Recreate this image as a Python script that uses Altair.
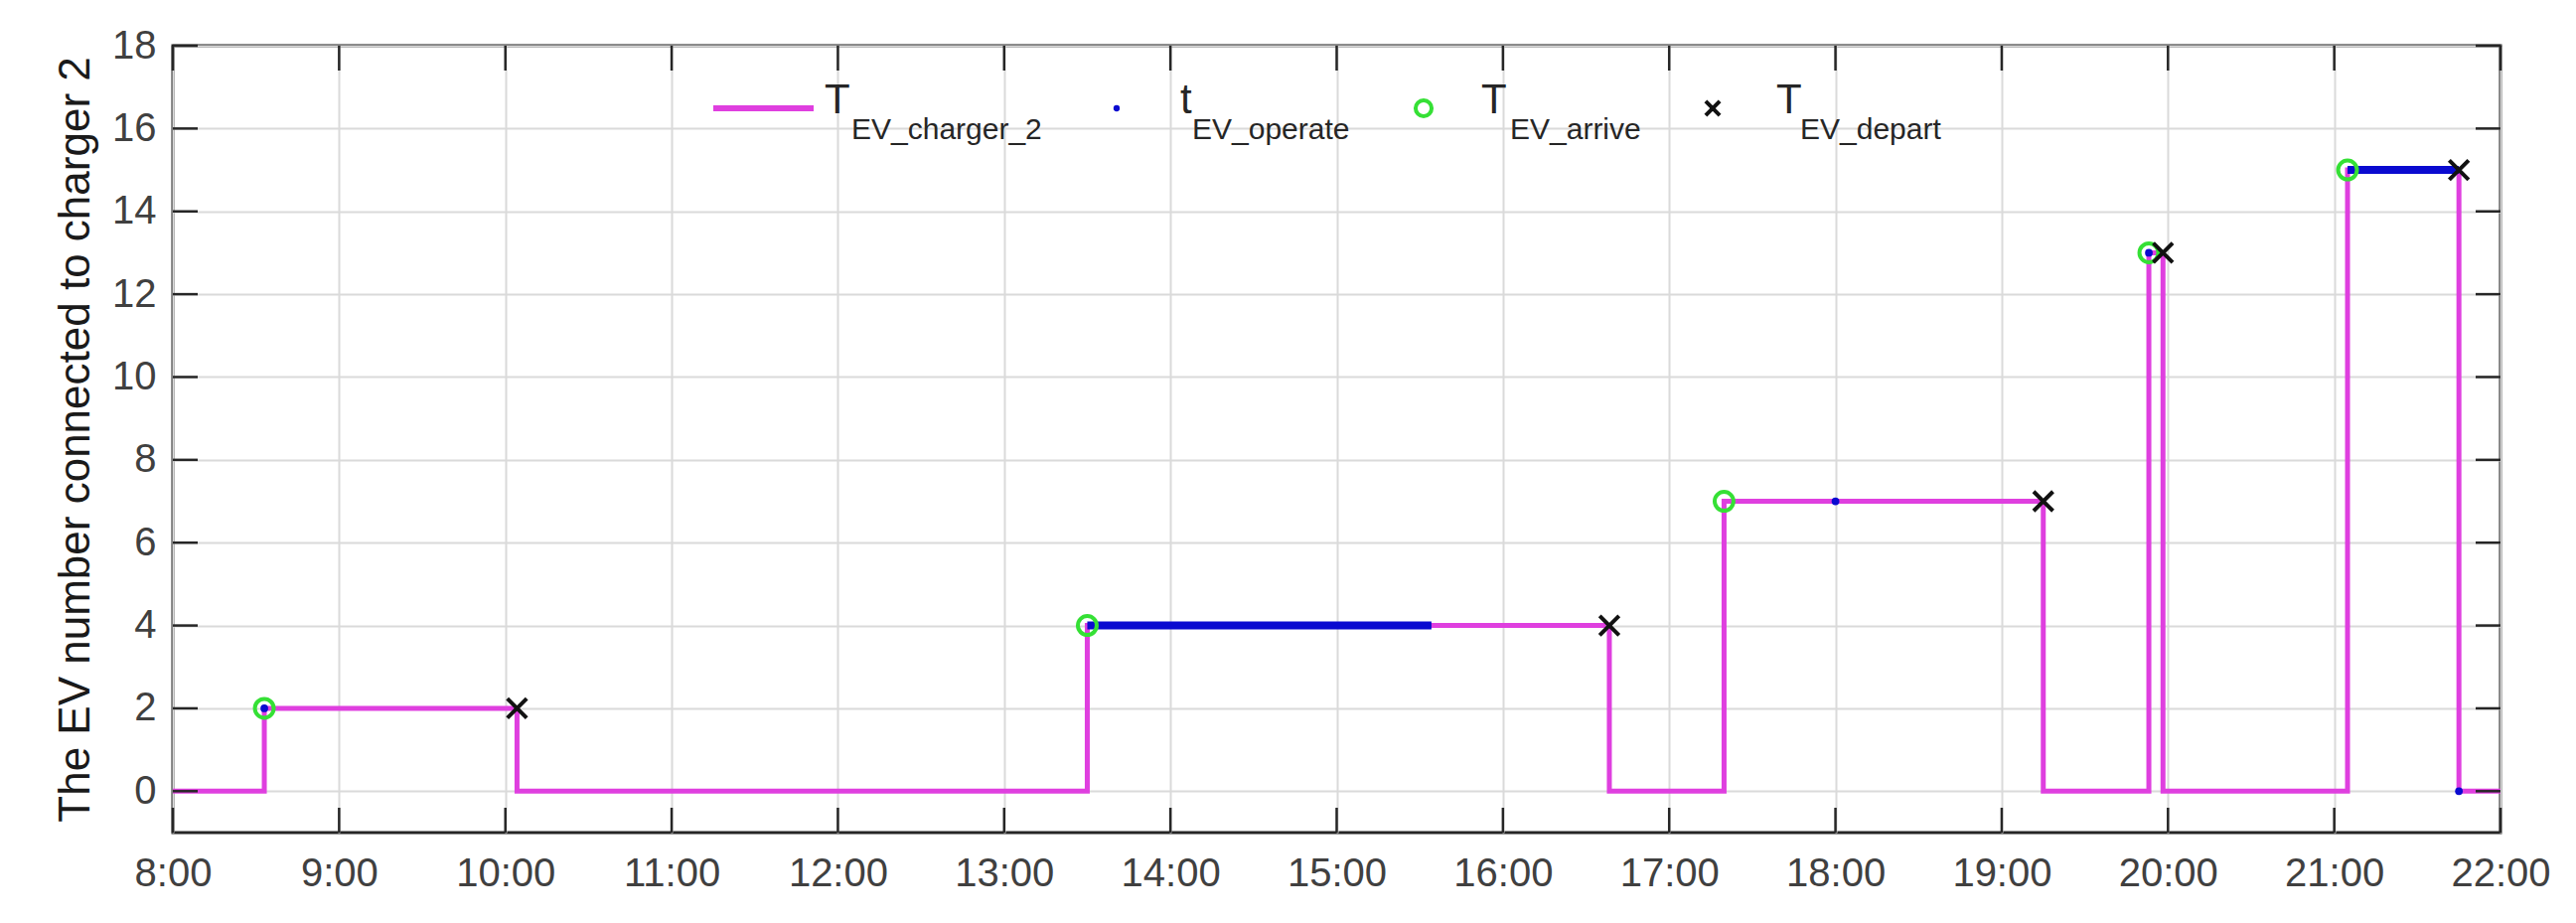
import altair as alt
import pandas as pd

# ---------------- data (hours of day, EV number) ----------------
arrive_t = [8.55, 13.50, 17.33, 19.885, 21.08]
depart_t = [10.07, 16.64, 19.25, 19.97, 21.75]
ev_level = [2, 4, 7, 13, 15]

operate_start = [13.50, 21.08]
operate_end = [15.57, 21.75]
operate_level = [4, 15]
operate_dot_t = [8.55, 18.00, 19.885, 21.75]
operate_dot_v = [2, 7, 13, 0]

day_start, day_end = 8, 22
x_ticks = list(range(8, 23))
y_ticks = list(range(0, 19, 2))

legend_main = ["T", "t", "T", "T"]
legend_sub = ["EV_charger_2", "EV_operate", "EV_arrive", "EV_depart"]

# ---------------- styling ----------------
FONT = "Liberation Sans"
W, H = 2343, 792
PINK = "#DF3FDF"
BLUE = "#0A0AD0"
GREEN = "#35E035"
BLACK = "#111111"
AX = "#262626"

# step line table built from arrivals / departures
step_t, step_v = [day_start], [0]
for a, d, l in zip(arrive_t, depart_t, ev_level):
    step_t += [a, a, d, d]
    step_v += [0, l, l, 0]
step_t.append(day_end)
step_v.append(0)
step_df = pd.DataFrame({"t": step_t, "v": step_v, "o": list(range(len(step_t)))})

arr_df = pd.DataFrame({"t": arrive_t, "v": ev_level})
dep_df = pd.DataFrame({"t": depart_t, "v": ev_level})
op_df = pd.DataFrame({"t": operate_start, "t2": operate_end, "v": operate_level})
opdot_df = pd.DataFrame({"t": operate_dot_t, "v": operate_dot_v})
xt_df = pd.DataFrame({"t": x_ticks})
yt_df = pd.DataFrame({"v": y_ticks})
dummy = pd.DataFrame({"k": [0]})

xscale = alt.Scale(domain=[day_start, day_end], nice=False, zero=False)
yscale = alt.Scale(domain=[-1, 18], nice=False, zero=False)

xaxis = alt.Axis(values=x_ticks, labelExpr="datum.value + ':00'", title=None,
                 tickSize=0, domain=False, grid=True, gridColor="#DADADA", gridWidth=2,
                 labelFont=FONT, labelFontSize=40, labelColor="#404040", labelPadding=21,
                 labelFlush=False)
yaxis = alt.Axis(values=y_ticks, title="The EV number connected to charger 2",
                 tickSize=0, domain=False, grid=True, gridColor="#DADADA", gridWidth=2,
                 labelFont=FONT, labelFontSize=40, labelColor="#404040", labelPadding=17,
                 titleFont=FONT, titleFontSize=44, titleFontWeight="normal", titleColor="#1A1A1A",
                 titleX=-85, titleY=H / 2, titleBaseline="alphabetic", titleAngle=270)


def X(field="t"):
    return alt.X(f"{field}:Q", scale=xscale, axis=xaxis)


def Y(field="v"):
    return alt.Y(f"{field}:Q", scale=yscale, axis=yaxis)


step = alt.Chart(step_df).mark_line(color=PINK, strokeWidth=5, strokeJoin="miter").encode(
    x=X(), y=Y(), order="o:Q")

op_rules = alt.Chart(op_df).mark_rule(color=BLUE, strokeWidth=8).encode(
    x=X(), x2="t2:Q", y=Y())

op_dots = alt.Chart(opdot_df).mark_circle(color=BLUE, size=60, opacity=1).encode(x=X(), y=Y())

arr = alt.Chart(arr_df).mark_point(shape="circle", filled=False, color=GREEN, strokeWidth=4,
                                   size=360, opacity=1).encode(x=X(), y=Y())

XSHAPE = "M-1,-1L1,1M-1,1L1,-1"
dep = alt.Chart(dep_df).mark_point(shape=XSHAPE, filled=False, color=BLACK, strokeWidth=4,
                                   size=380, opacity=1).encode(x=X(), y=Y())

TL = 25
tick_b = alt.Chart(xt_df).mark_rule(color=AX, strokeWidth=2.5).encode(
    x=X(), y=alt.value(H), y2=alt.value(H - TL))
tick_t = alt.Chart(xt_df).mark_rule(color=AX, strokeWidth=2.5).encode(
    x=X(), y=alt.value(0), y2=alt.value(TL))
tick_l = alt.Chart(yt_df).mark_rule(color=AX, strokeWidth=2.5).encode(
    y=Y(), x=alt.value(0), x2=alt.value(TL))
tick_r = alt.Chart(yt_df).mark_rule(color=AX, strokeWidth=2.5).encode(
    y=Y(), x=alt.value(W - TL), x2=alt.value(W))

# ---------------- manual legend ----------------
LY = 63
leg = []
leg.append(alt.Chart(dummy).mark_rule(color=PINK, strokeWidth=6).encode(
    x=alt.value(544), x2=alt.value(645), y=alt.value(LY)))
leg.append(alt.Chart(dummy).mark_circle(color=BLUE, size=40, opacity=1).encode(
    x=alt.value(950), y=alt.value(LY)))
leg.append(alt.Chart(dummy).mark_point(shape="circle", filled=False, color=GREEN, strokeWidth=4,
                                       size=260, opacity=1).encode(x=alt.value(1259), y=alt.value(LY)))
leg.append(alt.Chart(dummy).mark_point(shape=XSHAPE, filled=False, color=BLACK, strokeWidth=4,
                                       size=200, opacity=1).encode(x=alt.value(1550), y=alt.value(LY)))

main_x = [656, 1014, 1317, 1614]
sub_x = [683, 1026, 1346, 1638]
for m, s, mx, sx in zip(legend_main, legend_sub, main_x, sub_x):
    leg.append(alt.Chart(dummy).mark_text(text=m, align="left", baseline="alphabetic", font=FONT,
                                          fontSize=42, color="#262626").encode(
        x=alt.value(mx), y=alt.value(68)))
    leg.append(alt.Chart(dummy).mark_text(text=s, align="left", baseline="alphabetic", font=FONT,
                                          fontSize=30, color="#262626").encode(
        x=alt.value(sx), y=alt.value(94)))

chart = alt.layer(
    step, op_rules, op_dots, arr, dep, tick_b, tick_t, tick_l, tick_r, *leg
).properties(
    width=W, height=H,
    padding={"left": 166, "top": 38, "right": 60, "bottom": 83},
    autosize=alt.AutoSizeParams(type="none"),
    background="white",
).configure_view(stroke=AX, strokeWidth=3)

chart.save("out.html", embed_options={"renderer": "svg", "actions": False})
